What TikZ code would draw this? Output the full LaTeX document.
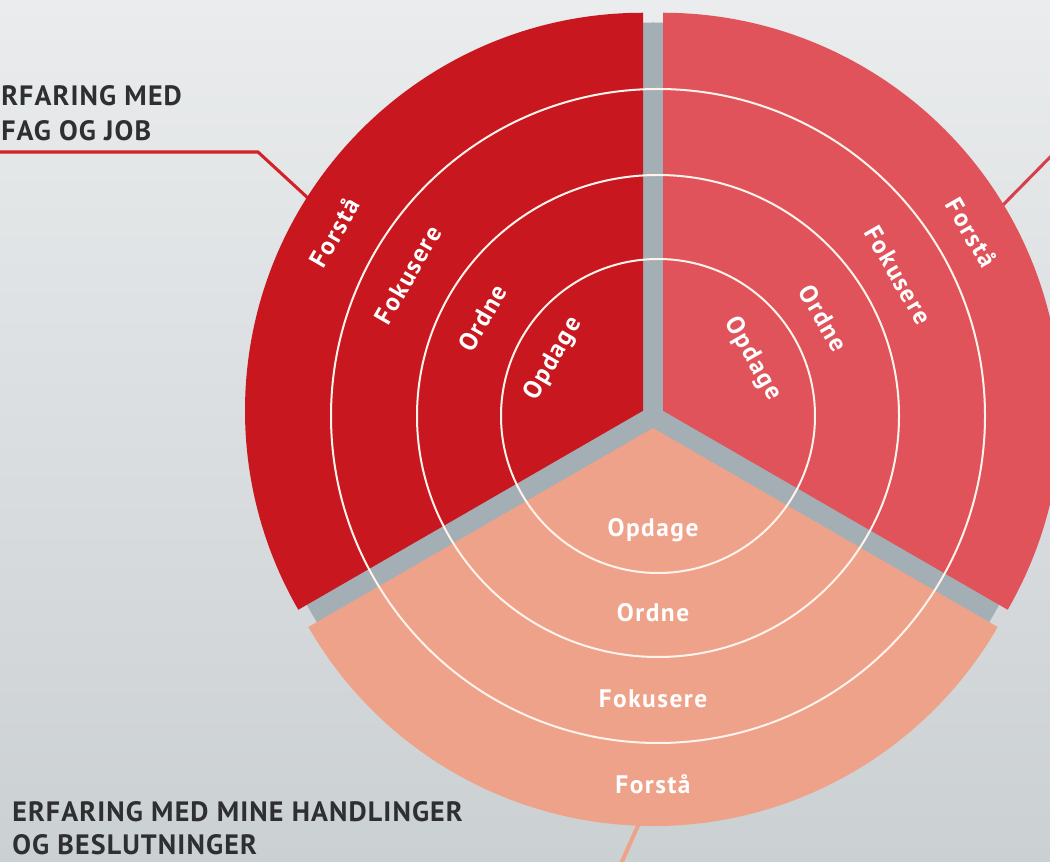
\documentclass[tikz,border=0pt]{standalone}
\usepackage{fontspec}
\setmainfont{PT Sans}
\definecolor{bgtop}{HTML}{EAECED}
\definecolor{bgbot}{HTML}{CBD0D3}
\definecolor{gapgray}{HTML}{A3AFB5}
\definecolor{secdark}{HTML}{C8171E}
\definecolor{secmid}{HTML}{E1535A}
\definecolor{seclight}{HTML}{EFA28A}
\definecolor{ringwhite}{HTML}{FFF3EC}
\definecolor{textdark}{HTML}{2E2F31}
\definecolor{linered}{HTML}{D42027}
\definecolor{linepink}{HTML}{D6404A}
\begin{document}
\begin{tikzpicture}[x=0.75pt,y=0.75pt,
  lbl/.style={text=white,font=\bfseries\fontsize{19}{19}\selectfont\addfontfeature{LetterSpace=6},inner sep=0pt},
  captext/.style={text=textdark,font=\bfseries\fontsize{21}{21}\selectfont\addfontfeature{LetterSpace=4},inner sep=0pt,anchor=base west},
  ring/.style={draw=ringwhite,line width=1.5pt},
  conn/.style={line width=2.3pt}]
\shade[top color=bgtop,bottom color=bgbot] (0,0) rectangle (1050,861);
\useasboundingbox (0,0) rectangle (1050,861);
% centres
\coordinate (C) at (653,444.5);
\coordinate (Atl) at (643,450.25);
\coordinate (Atr) at (663,450.25);
\coordinate (Ab) at (653,433);
\coordinate (O) at (658,445);
% connectors (under the sectors)
\coordinate (tlA) at (-5,709);
\coordinate (tlB) at (258,709);
\coordinate (tlC) at (309,662);
\draw[conn,draw=linered] (tlA) -- (tlB) -- (tlC);
\coordinate (trA) at (1003,656);
\coordinate (trB) at (1062,716);
\draw[conn,draw=linepink] (trA) -- (trB);
\coordinate (bA) at (640,40);
\coordinate (bB) at (620,-5);
\draw[line width=3pt,draw=seclight] (bA) -- (bB);
% gap shadow
\fill[gapgray] (C) circle (394);
% sectors
\fill[secdark] (Atl) -- ++(90:398) arc (90:210:398) -- cycle;
\fill[secmid] (Atr) -- ++(-30:398) arc (-30:90:398) -- cycle;
\fill[seclight] (Ab) -- ++(210:398) arc (210:330:398) -- cycle;
% rings
\foreach \r in {157,241,327} \draw[ring] (O) circle (\r);
% labels top-left
\node[lbl,rotate=60] (tl1) at ([shift={(150:115)}]C) {Opdage};
\node[lbl,rotate=60] (tl2) at ([shift={(150:197)}]C) {Ordne};
\node[lbl,rotate=60] (tl3) at ([shift={(150:283)}]C) {Fokusere};
\node[lbl,rotate=60] (tl4) at ([shift={(150:368)}]C) {Forstå};
% labels top-right
\node[lbl,rotate=-60] (tr1) at ([shift={(30:115)}]C) {Opdage};
\node[lbl,rotate=-60] (tr2) at ([shift={(30:197)}]C) {Ordne};
\node[lbl,rotate=-60] (tr3) at ([shift={(30:283)}]C) {Fokusere};
\node[lbl,rotate=-60] (tr4) at ([shift={(30:368)}]C) {Forstå};
% labels bottom
\node[lbl] (b1) at ([shift={(270:114)}]C) {Opdage};
\node[lbl] (b2) at ([shift={(270:196)}]C) {Ordne};
\node[lbl] (b3) at ([shift={(270:282)}]C) {Fokusere};
\node[lbl] (b4) at ([shift={(270:368)}]C) {Forstå};
% captions
\node[captext] (cap1) at (1,755) {RFARING MED};
\node[captext] (cap2) at (1,720) {FAG OG JOB};
\node[captext] (cap3) at (12,40) {ERFARING MED MINE HANDLINGER};
\node[captext] (cap4) at (12,7) {OG BESLUTNINGER};
\end{tikzpicture}
\end{document}
